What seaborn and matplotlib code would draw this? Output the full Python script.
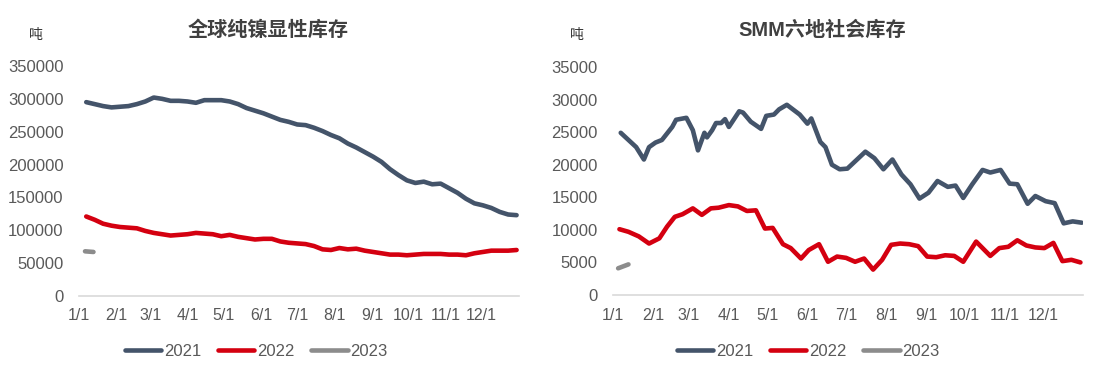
import matplotlib
matplotlib.use("Agg")
import matplotlib.pyplot as plt
import seaborn as sns
import pandas as pd
import numpy as np

# ---------------- data ----------------
# Left panel: global refined nickel visible inventory (tonnes), weekly
left_dates = ["01-07", "01-14", "01-21", "01-28", "02-04", "02-11", "02-18", "02-25",
              "03-04", "03-11", "03-18", "03-25", "04-01", "04-08", "04-15", "04-22",
              "04-29", "05-06", "05-13", "05-20", "05-27", "06-03", "06-10", "06-17",
              "06-24", "07-01", "07-08", "07-15", "07-22", "07-29", "08-05", "08-12",
              "08-19", "08-26", "09-02", "09-09", "09-16", "09-23", "09-30", "10-07",
              "10-14", "10-21", "10-28", "11-04", "11-11", "11-18", "11-25", "12-02",
              "12-09", "12-16", "12-23", "12-30"]
left_2021 = [295000, 292000, 289000, 287000, 288000, 289000, 292000, 296000,
             302000, 300000, 297000, 297000, 296000, 294000, 298000, 298000,
             298000, 296000, 292000, 286000, 282000, 278000, 273000, 268000,
             265000, 261000, 260000, 256000, 251000, 245000, 240000, 232000,
             226000, 219000, 212000, 204000, 193000, 184000, 176000, 172000,
             174000, 170000, 171000, 164000, 157000, 148000, 141000, 138000,
             134000, 128000, 124000, 123000]
left_2022 = [121000, 116000, 110000, 107000, 105000, 104000, 103000, 99000,
             96000, 94000, 92000, 93000, 94000, 96000, 95000, 94000,
             91000, 93000, 90000, 88000, 86000, 87000, 87000, 83000,
             81000, 80000, 79000, 76000, 71000, 70000, 73000, 71000,
             72000, 69000, 67000, 65000, 63000, 63000, 62000, 63000,
             64000, 64000, 64000, 63000, 63000, 62000, 65000, 67000,
             69000, 69000, 69000, 70000]
left_2023_dates = ["01-06", "01-13"]
left_2023 = [68000, 67000]

# Right panel: SMM six-region social inventory (tonnes)
right_2021_dates = ["01-07", "01-19", "01-25", "01-29", "02-03", "02-08", "02-16", "02-19",
                    "02-27", "03-04", "03-08", "03-13", "03-15", "03-19", "03-22", "03-26",
                    "03-29", "04-01", "04-09", "04-12", "04-18", "04-26", "04-30", "05-06",
                    "05-10", "05-16", "05-26", "06-01", "06-04", "06-11", "06-15", "06-20",
                    "06-26", "07-02", "07-09", "07-16", "07-23", "07-30", "08-06", "08-13",
                    "08-20", "08-27", "09-03", "09-10", "09-18", "09-24", "09-30", "10-07",
                    "10-15", "10-21", "10-29", "11-05", "11-11", "11-19", "11-25", "12-03",
                    "12-10", "12-17", "12-24", "12-31"]
right_2021 = [24900, 22700, 20800, 22700, 23400, 23800, 25800, 26900,
              27200, 25300, 22200, 24900, 24200, 25300, 26400, 26400,
              27000, 25800, 28200, 28000, 26600, 25500, 27500, 27700,
              28500, 29200, 27700, 26300, 27100, 23500, 22700, 20000,
              19300, 19400, 20700, 22000, 21000, 19300, 20800, 18500,
              17000, 14800, 15700, 17500, 16600, 16800, 14900, 17000,
              19200, 18800, 19200, 17100, 17000, 14000, 15200, 14400,
              14100, 11000, 11300, 11100]
right_2022_dates = ["01-06", "01-13", "01-21", "01-29", "02-06", "02-12", "02-18", "02-24",
                    "03-04", "03-11", "03-18", "03-24", "04-01", "04-08", "04-15", "04-22",
                    "04-29", "05-05", "05-13", "05-19", "05-27", "06-02", "06-10", "06-17",
                    "06-24", "07-01", "07-08", "07-15", "07-22", "07-29", "08-05", "08-12",
                    "08-19", "08-26", "09-02", "09-09", "09-16", "09-23", "09-30", "10-10",
                    "10-15", "10-21", "10-28", "11-04", "11-11", "11-18", "11-25", "12-02",
                    "12-09", "12-16", "12-23", "12-30"]
right_2022 = [10100, 9700, 9000, 7900, 8700, 10500, 12000, 12400,
              13300, 12300, 13300, 13400, 13800, 13600, 12900, 13000,
              10200, 10300, 7800, 7200, 5600, 6900, 7800, 5100,
              5900, 5700, 5100, 5600, 3900, 5400, 7700, 7900,
              7800, 7500, 5900, 5800, 6100, 6000, 5100, 8200,
              7200, 6000, 7200, 7400, 8400, 7600, 7300, 7200,
              8000, 5200, 5400, 5000]
right_2023_dates = ["01-05", "01-13"]
right_2023 = [4100, 4700]

years = ["2021", "2022", "2023"]
colors = {"2021": "#44546a", "2022": "#d40010", "2023": "#8c8c8c"}
month_labels = ["1/1", "2/1", "3/1", "4/1", "5/1", "6/1", "7/1", "8/1",
                "9/1", "10/1", "11/1", "12/1"]


def day_index(md):
    # position on a common calendar year (days since Jan 1)
    return (pd.Timestamp("2021-" + md) - pd.Timestamp("2021-01-01")).days


def build(series):
    frames = []
    for year, dates, vals in series:
        frames.append(pd.DataFrame({"day": [day_index(d) for d in dates],
                                    "value": vals, "year": year}))
    return pd.concat(frames, ignore_index=True)


df_left = build([("2021", left_dates, left_2021),
                 ("2022", left_dates, left_2022),
                 ("2023", left_2023_dates, left_2023)])
df_right = build([("2021", right_2021_dates, right_2021),
                  ("2022", right_2022_dates, right_2022),
                  ("2023", right_2023_dates, right_2023)])

# ---------------- style ----------------
sns.set_theme(style="white")
plt.rcParams["font.family"] = ["Liberation Sans", "Noto Sans CJK SC", "DejaVu Sans"]
tick_color = "#595959"
title_color = "#404040"

fig = plt.figure(figsize=(11.04, 3.79), dpi=100)
ax_l = fig.add_axes([79 / 1104, 1 - 296 / 379, 440 / 1104, 230 / 379])
ax_r = fig.add_axes([613 / 1104, 1 - 295 / 379, 470 / 1104, 228 / 379])

month_pos = [(pd.Timestamp(f"2021-{m:02d}-01") - pd.Timestamp("2021-01-01")).days
             for m in range(1, 13)]


def style_axis(ax, df, ymax, ystep, title, title_x, leg_x):
    sns.lineplot(data=df, x="day", y="value", hue="year", hue_order=years,
                 palette=colors, linewidth=3.3, ax=ax, legend=True,
                 estimator=None, sort=False)
    ax.set_xlim(0, 365)
    ax.set_ylim(0, ymax)
    ax.set_yticks(np.arange(0, ymax + 1, ystep))
    ax.set_yticklabels([f"{int(v)}" for v in np.arange(0, ymax + 1, ystep)])
    ax.set_xticks(month_pos + [365])
    ax.set_xticklabels(month_labels + [""])
    ax.set_xlabel("")
    ax.set_ylabel("")
    for s in ["top", "right", "left"]:
        ax.spines[s].set_visible(False)
    ax.spines["bottom"].set_color("#d9d9d9")
    ax.spines["bottom"].set_linewidth(1.2)
    ax.tick_params(axis="x", colors="#d9d9d9", direction="out", length=5,
                   width=1.2, labelcolor=tick_color, labelsize=11.5, pad=4)
    ax.tick_params(axis="y", length=0, labelcolor=tick_color, labelsize=12, pad=11)
    ax.grid(False)
    fig.text(title_x, 1 - 30 / 379, title, fontsize=14.5, fontweight="bold",
             color=title_color, family=["Liberation Sans", "Noto Sans CJK SC"],
             ha="center", va="center")
    handles, labels = ax.get_legend_handles_labels()
    ax.legend(handles, labels, loc="center", bbox_to_anchor=(leg_x, 1 - 351 / 379),
              bbox_transform=fig.transFigure, ncol=3, frameon=False,
              fontsize=12, handlelength=2.2, handletextpad=0.15,
              columnspacing=1.0, labelcolor=tick_color)


style_axis(ax_l, df_left, 350000, 50000, "全球纯镍显性库存", 268 / 1104, 256 / 1104)
style_axis(ax_r, df_right, 35000, 5000, "SMM六地社会库存", 822 / 1104, 808 / 1104)

fig.text(36 / 1104, 1 - 35 / 379, "吨", fontsize=10, color="#333333",
         family=["Noto Sans CJK SC"], ha="center", va="center")
fig.text(577 / 1104, 1 - 35 / 379, "吨", fontsize=10, color="#333333",
         family=["Noto Sans CJK SC"], ha="center", va="center")

fig.savefig("out.png", dpi=100)
